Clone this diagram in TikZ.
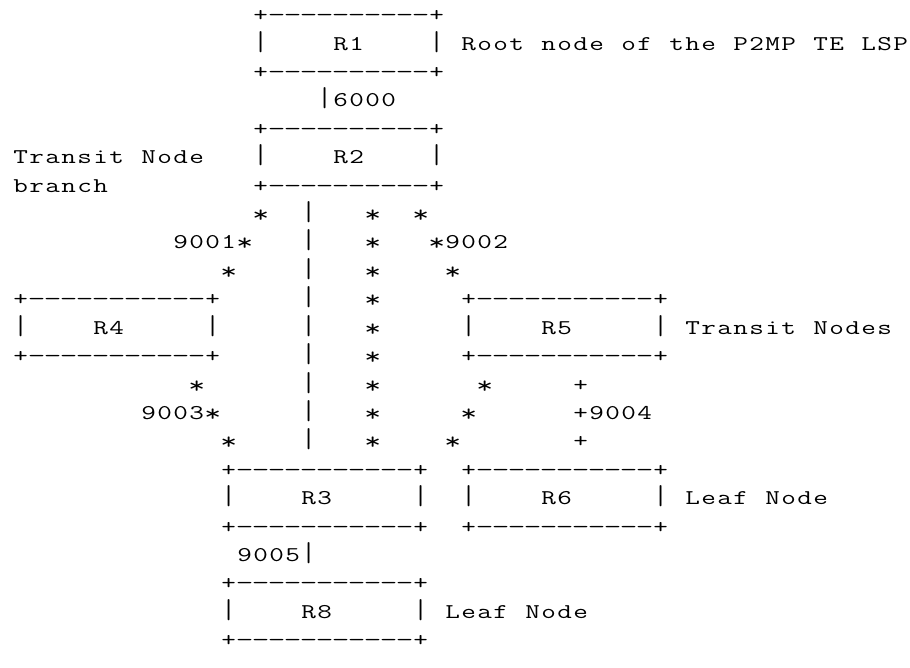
\documentclass[tikz,border=0pt]{standalone}
\usepackage{fontspec}
\usepackage{graphicx}
\newfontfamily\ascfont{Latin Modern Mono}[FakeStretch=1.35]
\ExplSyntaxOn
\NewDocumentCommand \mline {m}
 {
  \tl_map_inline:nn {#1}
   {
    \str_case:nnF {##1}
     {
      {.} { \hbox_to_wd:nn {16pt} {} }
      {-} { \hbox_to_wd:nn {16pt} { \hss \scalebox{1.2}[1]{-} \hss } }
      {|} { \hbox_to_wd:nn {16pt} { \hss \scalebox{1}[1.3]{|} \hss } }
      {*} { \hbox_to_wd:nn {16pt} { \hss \raisebox{-2pt}{\scalebox{1.15}{*}} \hss } }
     }
     { \hbox_to_wd:nn {16pt} { \hss ##1 \hss } }
   }
 }
\ExplSyntaxOff
\tikzset{asc/.style={inner sep=0pt, outer sep=0pt, anchor=base west,
  font=\ascfont\fontsize{21}{21}\selectfont, text=black}}
\newcommand\gl[4]{\node[asc] (#1) at ({12.7+16*(#2)},{645.3-28.41*((#3)-1)}) {\mline{#4}};}
\begin{document}
\begin{tikzpicture}[x=1pt,y=1pt]
\fill[white] (0,0) rectangle (910,667);
\useasboundingbox (0,0) rectangle (910,667);
% R1
\gl{r1t}{15}{1}{+----------+}
\gl{r1}{15}{2}{|....R1....|}
\gl{r1lab}{28}{2}{Root.node.of.the.P2MP.TE.LSP}
\gl{r1b}{15}{3}{+----------+}
\gl{l6000}{19}{4}{|6000}
% R2
\gl{r2t}{15}{5}{+----------+}
\gl{tlab}{0}{6}{Transit.Node}
\gl{r2}{15}{6}{|....R2....|}
\gl{blab}{0}{7}{branch}
\gl{r2b}{15}{7}{+----------+}
% row 8
\gl{a8}{15}{8}{*}
\gl{b8}{18}{8}{|}
\gl{c8}{22}{8}{*}
\gl{d8}{25}{8}{*}
% row 9
\gl{a9}{10}{9}{9001*}
\gl{b9}{18}{9}{|}
\gl{c9}{22}{9}{*}
\gl{d9}{26}{9}{*9002}
% row 10
\gl{a10}{13}{10}{*}
\gl{b10}{18}{10}{|}
\gl{c10}{22}{10}{*}
\gl{d10}{27}{10}{*}
% R4 / R5
\gl{r4t}{0}{11}{+-----------+}
\gl{b11}{18}{11}{|}
\gl{c11}{22}{11}{*}
\gl{r5t}{28}{11}{+-----------+}
\gl{r4}{0}{12}{|....R4.....|}
\gl{b12}{18}{12}{|}
\gl{c12}{22}{12}{*}
\gl{r5}{28}{12}{|....R5.....|}
\gl{r5lab}{42}{12}{Transit.Nodes}
\gl{r4b}{0}{13}{+-----------+}
\gl{b13}{18}{13}{|}
\gl{c13}{22}{13}{*}
\gl{r5b}{28}{13}{+-----------+}
% row 14
\gl{a14}{11}{14}{*}
\gl{b14}{18}{14}{|}
\gl{c14}{22}{14}{*}
\gl{d14}{29}{14}{*}
\gl{e14}{35}{14}{+}
% row 15
\gl{a15}{8}{15}{9003*}
\gl{b15}{18}{15}{|}
\gl{c15}{22}{15}{*}
\gl{d15}{28}{15}{*}
\gl{e15}{35}{15}{+9004}
% row 16
\gl{a16}{13}{16}{*}
\gl{b16}{18}{16}{|}
\gl{c16}{22}{16}{*}
\gl{d16}{27}{16}{*}
\gl{e16}{35}{16}{+}
% R3 / R6
\gl{r3t}{13}{17}{+-----------+}
\gl{r6t}{28}{17}{+-----------+}
\gl{r3}{13}{18}{|....R3.....|}
\gl{r6}{28}{18}{|....R6.....|}
\gl{r6lab}{42}{18}{Leaf.Node}
\gl{r3b}{13}{19}{+-----------+}
\gl{r6b}{28}{19}{+-----------+}
\gl{l9005}{14}{20}{9005|}
% R8
\gl{r8t}{13}{21}{+-----------+}
\gl{r8}{13}{22}{|....R8.....|}
\gl{r8lab}{27}{22}{Leaf.Node}
\gl{r8b}{13}{23}{+-----------+}
\end{tikzpicture}
\end{document}
